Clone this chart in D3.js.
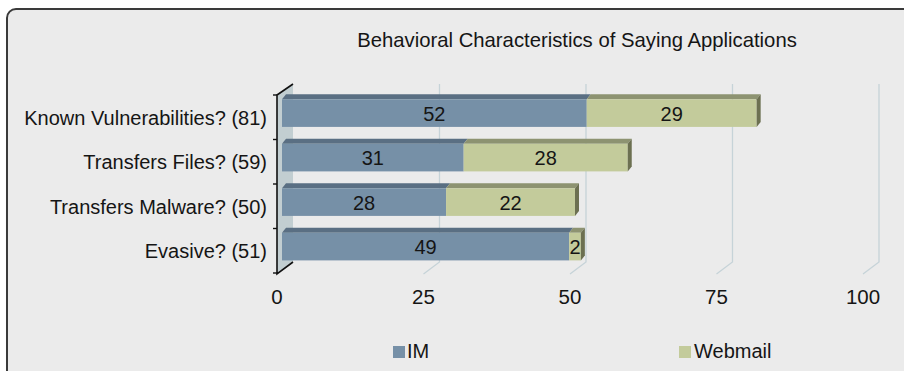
<!DOCTYPE html>
<html>
<head>
<meta charset="utf-8">
<script src="https://cdn.jsdelivr.net/npm/d3@7"></script>
<style>
  html, body { margin: 0; padding: 0; background: #ffffff; }
  svg { display: block; }
  text { font-family: "Liberation Sans", Arial, sans-serif; fill: #151515; }
</style>
</head>
<body>
<svg id="chart" width="904" height="371"></svg>
<script>
// Chart data
const title = "Behavioral Characteristics of Saying Applications";
const categories = ["Known Vulnerabilities? (81)", "Transfers Files? (59)", "Transfers Malware? (50)", "Evasive? (51)"];
const seriesNames = ["IM", "Webmail"];
const imValues = [52, 31, 28, 49];
const webmailValues = [29, 28, 22, 2];
const xTicks = [0, 25, 50, 75, 100];

const svg = d3.select("#chart");

// Panel frame
svg.append("rect")
  .attr("x", 7).attr("y", 9).attr("width", 920).attr("height", 380)
  .attr("rx", 9).attr("ry", 9)
  .attr("fill", "#ebebeb").attr("stroke", "#3a3a3a").attr("stroke-width", 2);

// Plot geometry (front plane + depth offset for the 3D box)
const depth = { dx: 16, dy: -11 };
const barDepth = { dx: 4, dy: -5 };
const barShift = 5;
const x = d3.scaleLinear().domain([0, 100]).range([277, 863]);
const y = d3.scaleBand().domain(categories).range([95, 273]);

const colors = {
  IM: { front: "#7690a7", top: "#5a6f83", side: "#4e6173" },
  Webmail: { front: "#c3cb9b", top: "#8d9371", side: "#6c7051" }
};

// Title
svg.append("text")
  .attr("x", 577).attr("y", 47)
  .attr("text-anchor", "middle")
  .style("font-size", "20.3px")
  .text(title);

// Back-wall gridlines with their floor segments
const grid = svg.append("g");
xTicks.filter(t => t > 0).forEach(t => {
  const bx = x(t) + depth.dx;
  grid.append("path")
    .attr("d", `M${bx},${95 + depth.dy} L${bx},${273 + depth.dy} L${x(t)},${274}`)
    .attr("fill", "none").attr("stroke", "#c6d3d8").attr("stroke-width", 1.3);
});

// Left side wall
svg.append("path")
  .attr("d", `M${x(0)},95 L${x(0) + depth.dx},${95 + depth.dy} L${x(0) + depth.dx},${273 + depth.dy} L${x(0)},274 Z`)
  .attr("fill", "#c2ced1").attr("stroke", "none");
svg.append("path")
  .attr("d", `M${x(0) + depth.dx},${95 + depth.dy} L${x(0)},95 L${x(0)},274 L${x(0) + depth.dx},${273 + depth.dy}`)
  .attr("fill", "none").attr("stroke", "#111").attr("stroke-width", 1.6);

// Category axis ticks
y.domain().concat([null]).forEach((c, i) => {
  const ty = 95 + i * y.bandwidth();
  svg.append("line")
    .attr("x1", x(0) - 4).attr("x2", x(0))
    .attr("y1", ty).attr("y2", ty)
    .attr("stroke", "#111").attr("stroke-width", 1.4);
});

// Stacked 3D bars
const stack = d3.stack().keys(seriesNames);
const rows = categories.map((c, i) => ({ cat: c, IM: imValues[i], Webmail: webmailValues[i] }));
const layers = stack(rows);
const barH = 27.6;
const barOff = 4.3;
const bars = svg.append("g");

rows.forEach((row, i) => {
  const by = y(row.cat) + barOff;
  layers.forEach((layer, li) => {
    const key = layer.key;
    const [v0, v1] = layer[i];
    if (v1 - v0 <= 0) return;
    const x0 = x(v0) + barShift, x1 = x(v1) + barShift;
    const c = colors[key];
    // top face
    bars.append("path")
      .attr("d", `M${x0},${by} L${x0 + barDepth.dx},${by + barDepth.dy} L${x1 + barDepth.dx},${by + barDepth.dy} L${x1},${by} Z`)
      .attr("fill", c.top);
    // front face
    bars.append("rect")
      .attr("x", x0).attr("y", by).attr("width", x1 - x0).attr("height", barH)
      .attr("fill", c.front);
    // end face of the stack
    if (li === layers.length - 1) {
      bars.append("path")
        .attr("d", `M${x1},${by} L${x1 + barDepth.dx},${by + barDepth.dy} L${x1 + barDepth.dx},${by + barH + barDepth.dy} L${x1},${by + barH} Z`)
        .attr("fill", c.side);
    }
    // value label
    bars.append("text")
      .attr("x", (x0 + x1) / 2).attr("y", by + barH / 2 + 7.5)
      .attr("text-anchor", "middle")
      .style("font-size", "20px")
      .text(v1 - v0);
  });
});

// Category labels
svg.append("g").selectAll("text")
  .data(categories)
  .join("text")
  .attr("x", 267)
  .attr("y", d => y(d) + y.bandwidth() / 2 + 7.5)
  .attr("text-anchor", "end")
  .style("font-size", "20px")
  .text(d => d);

// Value axis labels
svg.append("g").selectAll("text")
  .data(xTicks)
  .join("text")
  .attr("x", d => x(d))
  .attr("y", 304)
  .attr("text-anchor", "middle")
  .style("font-size", "20.5px")
  .text(d => d);

// Legend
const legendPos = [{ sx: 393, tx: 407 }, { sx: 679, tx: 694 }];
seriesNames.forEach((s, i) => {
  svg.append("rect")
    .attr("x", legendPos[i].sx).attr("y", 346).attr("width", 12).attr("height", 12)
    .attr("fill", colors[s].front);
  svg.append("text")
    .attr("x", legendPos[i].tx).attr("y", 358)
    .style("font-size", "20px")
    .text(s);
});
</script>
</body>
</html>
